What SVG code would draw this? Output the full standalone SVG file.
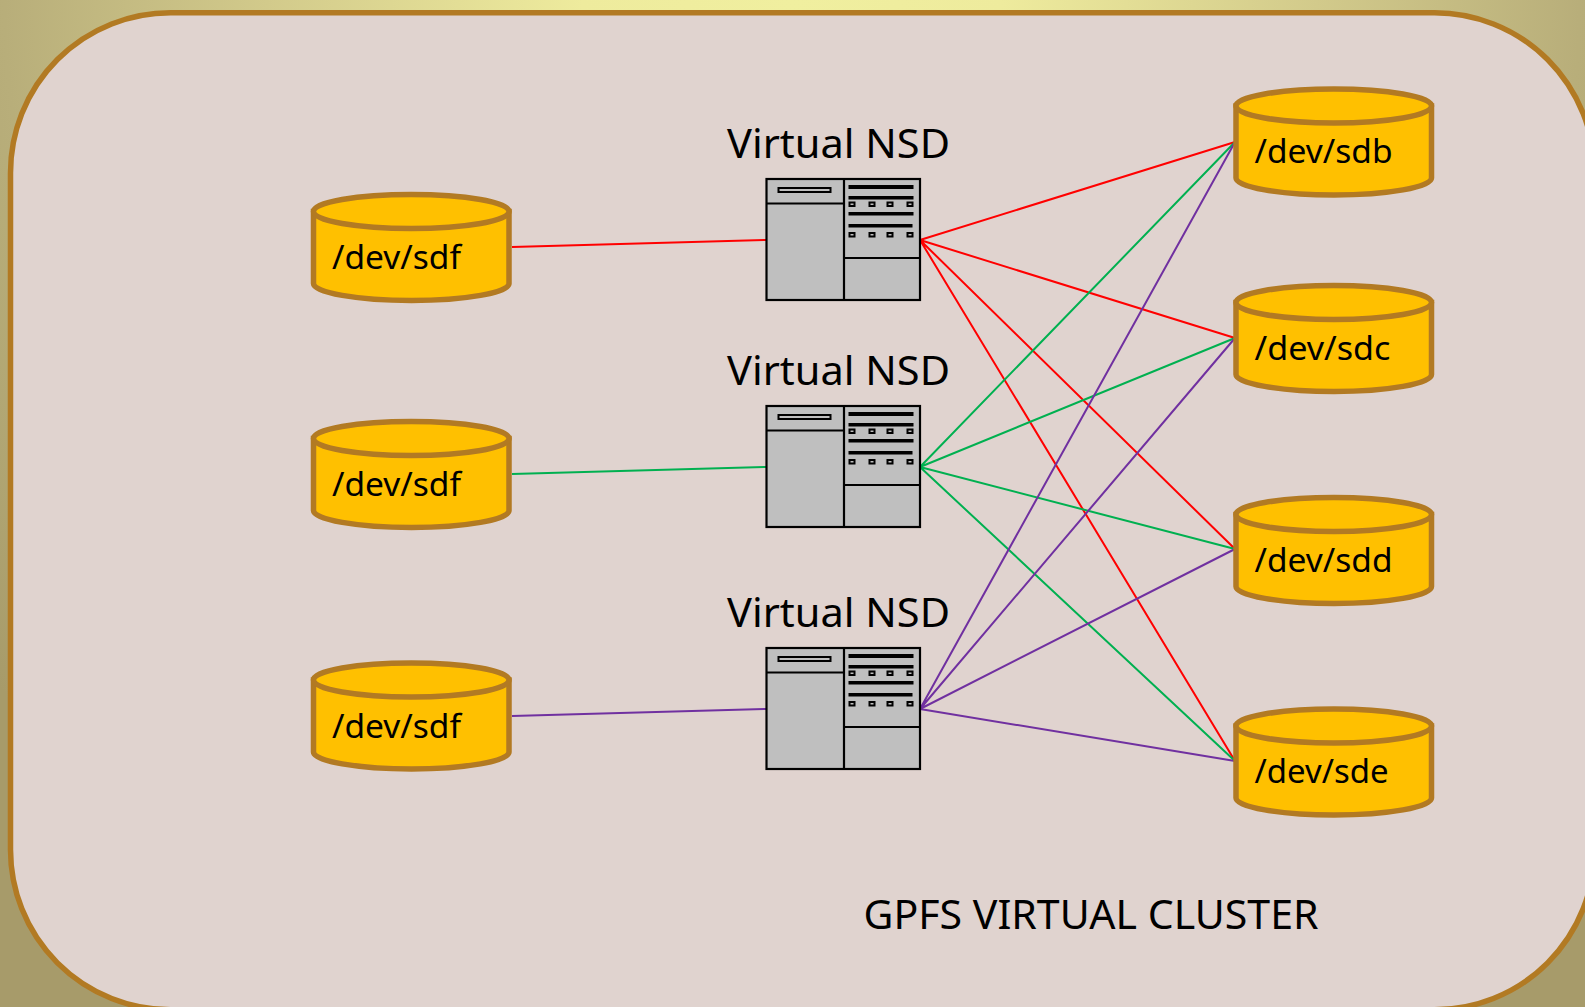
<svg xmlns="http://www.w3.org/2000/svg" xmlns:xlink="http://www.w3.org/1999/xlink" width="1585" height="1007" viewBox="0 0 1585 1007">
<style>
.t{font-family:"Noto Sans","Open Sans","Liberation Sans",sans-serif;fill:#000}
.lbl{font-size:32px}
.hd{font-size:40px}
.cy{fill:#ffc000;stroke:#b27a23;stroke-width:5.5}
.sv{fill:#bfbfbf;stroke:#000;stroke-width:2.2}
.bar{fill:#000}
.port{fill:#bfbfbf;stroke:#000;stroke-width:2}
.l{fill:none;stroke-width:2}
.r{stroke:#ff0000}.g{stroke:#00b050}.p{stroke:#7030a0}
</style>
<defs>
<radialGradient id="bg" gradientUnits="userSpaceOnUse" cx="792" cy="0" r="1050">
<stop offset="0" stop-color="#f0ef9f"/><stop offset="0.2" stop-color="#eeeb9d"/><stop offset="0.5" stop-color="#d2ca8b"/><stop offset="0.75" stop-color="#b8ae7a"/><stop offset="1" stop-color="#a79b6a"/>
</radialGradient>
<g id="server">
<rect class="sv" x="0" y="0" width="153.500" height="121"/>
<path class="sv" fill="none" d="M77.500 0V121M0 24.500H77.500M77.500 79H153.500"/>
<rect x="12" y="9" width="52" height="4" fill="#bfbfbf" stroke="#000" stroke-width="2"/>
<rect class="bar" x="82" y="6" width="65" height="4"/>
<rect class="bar" x="82" y="17" width="65" height="3.500"/>
<rect class="bar" x="82" y="33" width="65" height="3.500"/>
<rect class="bar" x="82" y="45" width="64" height="3.500"/>
<g class="port"><rect x="83" y="23.500" width="5" height="3.500"/><rect x="103" y="23.500" width="5" height="3.500"/><rect x="121" y="23.500" width="5" height="3.500"/><rect x="141" y="23.500" width="5" height="3.500"/>
<rect x="83" y="54" width="5" height="3.500"/><rect x="103" y="54" width="5" height="3.500"/><rect x="121" y="54" width="5" height="3.500"/><rect x="141" y="54" width="5" height="3.500"/></g>
</g>
<g id="cyl">
<path class="cy" d="M0 17V89C0 98 44 106 98 106S195.500 98 195.500 89V17Z"/>
<ellipse class="cy" cx="97.750" cy="17" rx="97.750" ry="17"/>
</g>
</defs>
<rect width="1585" height="1007" fill="url(#bg)"/>
<rect id="panel" x="10.500" y="12.700" width="1584" height="997" rx="160" ry="160" fill="#e0d3cf" stroke="#b27a23" stroke-width="5.5"/>
<g id="connectors">
<path class="l r" d="M512 247L766 240M920 240L1235 142M920 240L1235 338M920 240L1235 549M920 240L1235 761"/>
<path class="l g" d="M512 474L766 467M920 467L1235 142M920 467L1235 338M920 467L1235 549M920 467L1235 761"/>
<path class="l p" d="M512 716L766 709M920 709L1235 142M920 709L1235 338M920 709L1235 549M920 709L1235 761"/>
</g>
<g id="disk-left-1"><use xlink:href="#cyl" href="#cyl" x="313.500" y="194.500"/><text class="t lbl" x="332" y="269" textLength="129" lengthAdjust="spacingAndGlyphs">/dev/sdf</text></g>
<g id="disk-left-2"><use xlink:href="#cyl" href="#cyl" x="313.500" y="421.500"/><text class="t lbl" x="332" y="496" textLength="129" lengthAdjust="spacingAndGlyphs">/dev/sdf</text></g>
<g id="disk-left-3"><use xlink:href="#cyl" href="#cyl" x="313.500" y="663"/><text class="t lbl" x="332" y="738" textLength="129" lengthAdjust="spacingAndGlyphs">/dev/sdf</text></g>
<g id="server-1"><text class="t hd" x="727" y="158" textLength="223" lengthAdjust="spacingAndGlyphs">Virtual NSD</text><use xlink:href="#server" href="#server" x="766.500" y="179"/></g>
<g id="server-2"><text class="t hd" x="727" y="385" textLength="223" lengthAdjust="spacingAndGlyphs">Virtual NSD</text><use xlink:href="#server" href="#server" x="766.500" y="406"/></g>
<g id="server-3"><text class="t hd" x="727" y="627" textLength="223" lengthAdjust="spacingAndGlyphs">Virtual NSD</text><use xlink:href="#server" href="#server" x="766.500" y="648"/></g>
<g id="disk-sdb"><use xlink:href="#cyl" href="#cyl" x="1236" y="89"/><text class="t lbl" x="1254.500" y="163" textLength="138" lengthAdjust="spacingAndGlyphs">/dev/sdb</text></g>
<g id="disk-sdc"><use xlink:href="#cyl" href="#cyl" x="1236" y="285.500"/><text class="t lbl" x="1254.500" y="360" textLength="136" lengthAdjust="spacingAndGlyphs">/dev/sdc</text></g>
<g id="disk-sdd"><use xlink:href="#cyl" href="#cyl" x="1236" y="497.500"/><text class="t lbl" x="1254.500" y="572" textLength="138" lengthAdjust="spacingAndGlyphs">/dev/sdd</text></g>
<g id="disk-sde"><use xlink:href="#cyl" href="#cyl" x="1236" y="709"/><text class="t lbl" x="1254.500" y="783" textLength="134" lengthAdjust="spacingAndGlyphs">/dev/sde</text></g>
<text id="title" class="t hd" x="863.500" y="929" textLength="455" lengthAdjust="spacingAndGlyphs">GPFS VIRTUAL CLUSTER</text>
</svg>
